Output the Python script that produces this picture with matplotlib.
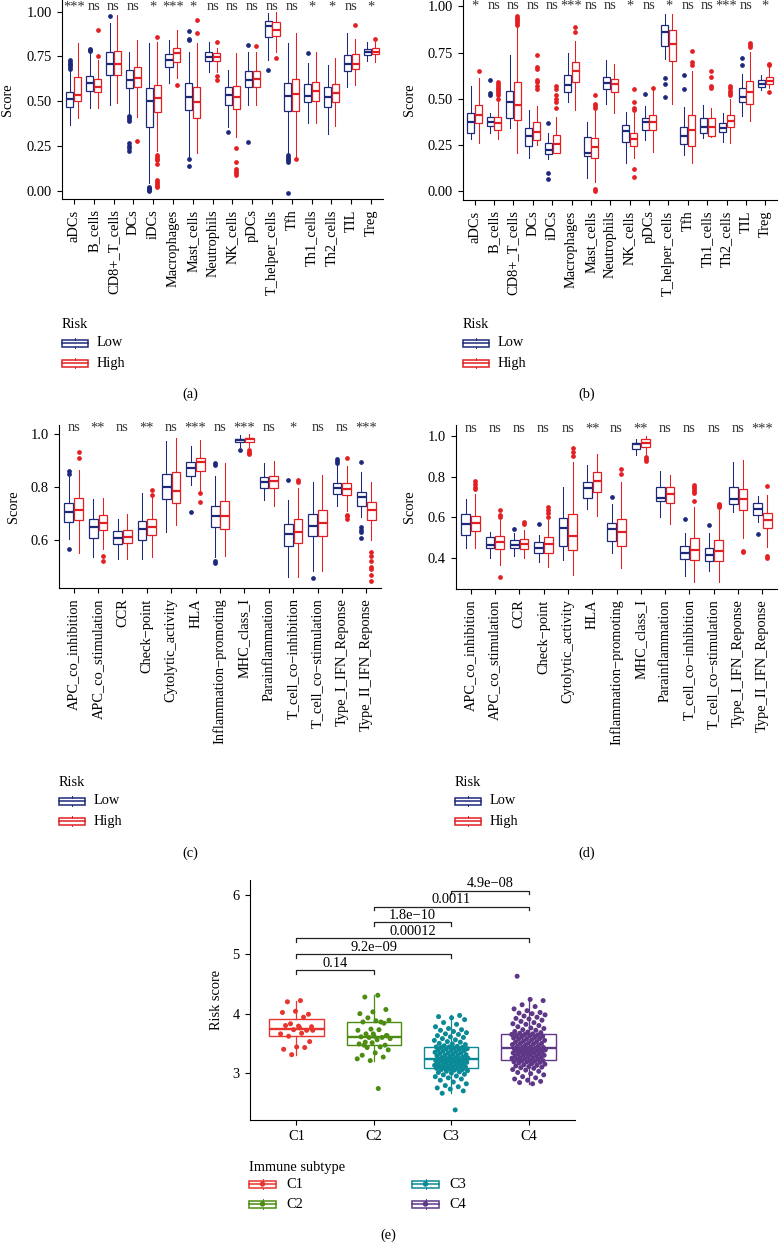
"""Immune cell / immune function scores by risk group (a-d) and risk score
by immune subtype (e), redrawn with matplotlib."""

import matplotlib

matplotlib.use("Agg")

import matplotlib.pyplot as plt
import numpy as np
from matplotlib.patches import Circle, Rectangle

W, H = 783, 1242
FS = 10.4

plt.rcParams["font.family"] = ["Liberation Serif", "DejaVu Serif"]
plt.rcParams["font.size"] = FS

LOW_COLOR = "#1D2A7C"
HIGH_COLOR = "#E41F23"
SUBTYPE_COLORS = ["#E8352E", "#4C8C11", "#0A8A96", "#5E3787"]

CELLS = ["aDCs", "B_cells", "CD8+_T_cells", "DCs", "iDCs", "Macrophages",
         "Mast_cells", "Neutrophils", "NK_cells", "pDCs", "T_helper_cells",
         "Tfh", "Th1_cells", "Th2_cells", "TIL", "Treg"]
FUNCS = ["APC_co_inhibition", "APC_co_stimulation", "CCR", "Check\u2212point",
         "Cytolytic_activity", "HLA", "Inflammation\u2212promoting",
         "MHC_class_I", "Parainflammation", "T_cell_co\u2212inhibition",
         "T_cell_co\u2212stimulation", "Type_I_IFN_Reponse",
         "Type_II_IFN_Reponse"]

# significance marks
A_SIG = ["***", "ns", "ns", "ns", "*", "***", "*", "ns", "ns", "ns", "ns",
         "ns", "*", "*", "ns", "*"]
B_SIG = ["*", "ns", "ns", "ns", "ns", "***", "ns", "ns", "*", "ns", "*",
         "ns", "ns", "***", "ns", "*"]
C_SIG = ["ns", "**", "ns", "**", "ns", "***", "ns", "***", "ns", "*", "ns",
         "ns", "***"]
D_SIG = ["ns", "ns", "ns", "ns", "ns", "**", "ns", "**", "ns", "ns", "ns",
         "ns", "***"]

# box stats per category: (whisker low, q1, median, q3, whisker high)
A_LOW = [(0.368, 0.47, 0.511, 0.55, 0.67), (0.465, 0.558, 0.60, 0.643, 0.77),
         (0.48, 0.647, 0.708, 0.773, 0.935), (0.405, 0.572, 0.619, 0.675, 0.777),
         (0.043, 0.355, 0.502, 0.572, 0.823), (0.60, 0.69, 0.73, 0.762, 0.842),
         (0.19, 0.452, 0.526, 0.60, 0.777), (0.665, 0.725, 0.745, 0.773, 0.829),
         (0.359, 0.48, 0.535, 0.578, 0.675), (0.48, 0.582, 0.619, 0.669, 0.777),
         (0.73, 0.86, 0.92, 0.95, 0.994), (0.21, 0.446, 0.53, 0.60, 0.823),
         (0.377, 0.495, 0.532, 0.595, 0.712), (0.32, 0.467, 0.522, 0.582, 0.703),
         (0.582, 0.671, 0.708, 0.758, 0.879), (0.725, 0.758, 0.773, 0.79, 0.833)]
A_LOW_OUT = [[0.68, 0.69, 0.70, 0.71, 0.72, 0.73], [0.78, 0.785, 0.79], [0.978],
             [0.39, 0.40, 0.41, 0.42, 0.22, 0.24, 0.25, 0.27],
             [0.0, 0.005, 0.01, 0.015, 0.02], [], [0.84, 0.85, 0.89, 0.18, 0.14],
             [], [0.327], [0.815, 0.275], [0.675],
             [0.20, 0.19, 0.18, 0.17, 0.16, -0.01], [0.768], [], [], []]
A_HIGH = [(0.405, 0.50, 0.535, 0.634, 0.827), (0.465, 0.55, 0.582, 0.625, 0.73),
          (0.49, 0.647, 0.708, 0.783, 0.98), (0.415, 0.578, 0.632, 0.69, 0.842),
          (0.22, 0.438, 0.52, 0.59, 0.833), (0.628, 0.72, 0.768, 0.795, 0.898),
          (0.21, 0.409, 0.498, 0.578, 0.823), (0.665, 0.725, 0.745, 0.768, 0.80),
          (0.30, 0.455, 0.526, 0.585, 0.768), (0.48, 0.582, 0.625, 0.671, 0.777),
          (0.777, 0.866, 0.90, 0.944, 1.0), (0.19, 0.448, 0.539, 0.625, 0.879),
          (0.377, 0.502, 0.56, 0.61, 0.777), (0.362, 0.498, 0.545, 0.597, 0.74),
          (0.59, 0.678, 0.708, 0.762, 0.85), (0.72, 0.764, 0.777, 0.795, 0.83)]
A_HIGH_OUT = [[], [0.75, 0.90], [], [0.28],
              [0.86, 0.20, 0.19, 0.18, 0.17, 0.15, 0.06, 0.05, 0.04, 0.03, 0.02],
              [0.59], [0.88, 0.955], [0.83, 0.64, 0.62],
              [0.24, 0.16, 0.12, 0.11, 0.10, 0.09], [0.81], [0.74], [0.177],
              [], [], [0.926], [0.85]]

B_LOW = [(0.28, 0.312, 0.375, 0.423, 0.568), (0.312, 0.351, 0.375, 0.402, 0.42),
         (0.339, 0.393, 0.483, 0.542, 0.739), (0.177, 0.245, 0.297, 0.339, 0.438),
         (0.171, 0.20, 0.222, 0.261, 0.315), (0.483, 0.537, 0.577, 0.627, 0.748),
         (0.072, 0.189, 0.207, 0.294, 0.375), (0.474, 0.55, 0.586, 0.618, 0.708),
         (0.153, 0.263, 0.326, 0.357, 0.429), (0.276, 0.33, 0.375, 0.393, 0.46),
         (0.717, 0.786, 0.861, 0.90, 0.96), (0.195, 0.252, 0.30, 0.348, 0.456),
         (0.285, 0.312, 0.348, 0.393, 0.465), (0.267, 0.321, 0.342, 0.369, 0.423),
         (0.405, 0.483, 0.51, 0.56, 0.636), (0.546, 0.564, 0.578, 0.60, 0.627)]
B_LOW_OUT = [[], [0.60, 0.53, 0.52], [], [], [0.37, 0.10, 0.065], [], [], [],
             [], [0.528], [0.61, 0.58, 0.51], [0.63, 0.555], [], [],
             [0.68, 0.72], []]
B_HIGH = [(0.258, 0.366, 0.414, 0.468, 0.61), (0.28, 0.33, 0.366, 0.402, 0.49),
          (0.204, 0.387, 0.465, 0.591, 0.888), (0.25, 0.276, 0.321, 0.375, 0.46),
          (0.204, 0.204, 0.252, 0.303, 0.40), (0.438, 0.591, 0.65, 0.699, 0.812),
          (0.05, 0.177, 0.24, 0.285, 0.44), (0.423, 0.537, 0.578, 0.605, 0.69),
          (0.18, 0.245, 0.279, 0.315, 0.42), (0.213, 0.333, 0.375, 0.414, 0.55),
          (0.474, 0.705, 0.798, 0.87, 0.96), (0.15, 0.245, 0.333, 0.41, 0.65),
          (0.29, 0.297, 0.348, 0.396, 0.45), (0.258, 0.348, 0.38, 0.414, 0.50),
          (0.38, 0.474, 0.537, 0.595, 0.753), (0.56, 0.582, 0.595, 0.618, 0.672)]
B_HIGH_OUT = [[0.65], [0.50, 0.52, 0.53, 0.54, 0.55, 0.56, 0.57, 0.58, 0.59],
              [0.90, 0.91, 0.92, 0.93, 0.94, 0.95],
              [0.55, 0.57, 0.59, 0.60, 0.66, 0.67, 0.735],
              [0.45, 0.48, 0.50, 0.52, 0.55, 0.57], [0.86, 0.89],
              [0.45, 0.46, 0.47, 0.52, 0.0, 0.01], [],
              [0.44, 0.45, 0.48, 0.555, 0.12, 0.075], [0.56], [],
              [0.68, 0.70, 0.76], [0.56, 0.57, 0.62, 0.65],
              [0.52, 0.53, 0.54, 0.56, 0.57], [0.78, 0.79, 0.80],
              [0.68, 0.69, 0.535]]

C_LOW = [(0.606, 0.669, 0.705, 0.739, 0.84), (0.537, 0.61, 0.65, 0.682, 0.755),
         (0.53, 0.587, 0.61, 0.634, 0.682), (0.53, 0.602, 0.642, 0.673, 0.777),
         (0.632, 0.754, 0.802, 0.852, 0.975), (0.808, 0.844, 0.874, 0.894, 0.956),
         (0.537, 0.65, 0.692, 0.73, 0.842), (0.953, 0.97, 0.979, 0.982, 0.997),
         (0.751, 0.796, 0.821, 0.84, 0.89), (0.461, 0.579, 0.623, 0.663, 0.751),
         (0.486, 0.615, 0.653, 0.70, 0.821), (0.729, 0.773, 0.796, 0.817, 0.884),
         (0.688, 0.73, 0.764, 0.783, 0.859)]
C_LOW_OUT = [[0.85, 0.86, 0.566], [], [], [], [], [0.705],
             [0.89, 0.885, 0.52, 0.515], [0.94], [], [0.827], [0.459],
             [0.89, 0.90, 0.905], [0.896, 0.65, 0.64, 0.63, 0.61]]
C_HIGH = [(0.552, 0.676, 0.716, 0.76, 0.865), (0.566, 0.64, 0.666, 0.695, 0.76),
          (0.53, 0.59, 0.613, 0.638, 0.698), (0.537, 0.621, 0.65, 0.682, 0.764),
          (0.657, 0.739, 0.785, 0.859, 0.987), (0.783, 0.861, 0.894, 0.912, 0.979),
          (0.54, 0.644, 0.692, 0.749, 0.89), (0.953, 0.972, 0.981, 0.987, 1.0),
          (0.729, 0.796, 0.823, 0.844, 0.899), (0.461, 0.591, 0.632, 0.682, 0.798),
          (0.486, 0.616, 0.666, 0.714, 0.846), (0.71, 0.77, 0.792, 0.817, 0.88),
          (0.60, 0.676, 0.716, 0.745, 0.821)]
C_HIGH_OUT = [[0.91, 0.935], [0.54, 0.52], [], [0.77, 0.79], [], [0.778, 0.745],
              [], [0.94, 0.935, 0.93, 0.925], [], [0.82, 0.827], [],
              [0.91, 0.695, 0.69, 0.68],
              [0.555, 0.54, 0.52, 0.50, 0.49, 0.47, 0.445]]

D_LOW = [(0.449, 0.514, 0.566, 0.615, 0.689), (0.40, 0.452, 0.465, 0.503, 0.53),
         (0.411, 0.452, 0.465, 0.49, 0.522), (0.38, 0.424, 0.449, 0.481, 0.514),
         (0.392, 0.462, 0.547, 0.596, 0.747), (0.64, 0.693, 0.746, 0.775, 0.857),
         (0.424, 0.485, 0.542, 0.571, 0.664), (0.905, 0.933, 0.959, 0.962, 0.982),
         (0.604, 0.68, 0.697, 0.75, 0.827), (0.314, 0.395, 0.428, 0.462, 0.522),
         (0.34, 0.387, 0.416, 0.449, 0.522), (0.628, 0.664, 0.69, 0.75, 0.873),
         (0.58, 0.612, 0.64, 0.672, 0.707)]
D_LOW_OUT = [[], [], [0.545], [0.568], [], [], [0.70], [], [], [0.59], [0.565],
             [], [0.517]]
D_HIGH = [(0.449, 0.534, 0.571, 0.607, 0.713), (0.367, 0.446, 0.481, 0.509, 0.587),
          (0.40, 0.446, 0.47, 0.493, 0.538), (0.359, 0.428, 0.468, 0.506, 0.587),
          (0.318, 0.44, 0.509, 0.615, 0.873), (0.607, 0.723, 0.78, 0.821, 0.909),
          (0.351, 0.46, 0.53, 0.592, 0.775), (0.91, 0.946, 0.966, 0.982, 1.0),
          (0.566, 0.672, 0.713, 0.75, 0.808), (0.286, 0.392, 0.44, 0.498, 0.653),
          (0.286, 0.387, 0.437, 0.49, 0.636), (0.498, 0.636, 0.69, 0.737, 0.881),
          (0.457, 0.547, 0.587, 0.623, 0.71)]
D_HIGH_OUT = [[0.74, 0.75, 0.765, 0.78], [0.60, 0.61, 0.635, 0.31], [0.57, 0.58],
              [0.60, 0.62, 0.635, 0.65], [0.90, 0.92, 0.94], [], [0.81, 0.835],
              [0.895, 0.885, 0.875], [], [0.68, 0.72, 0.73, 0.74, 0.75, 0.76],
              [0.65, 0.655, 0.66, 0.665], [0.435, 0.43], [0.755, 0.41, 0.40]]

# panel (e): risk score per sample in each immune subtype
SUBTYPES = ["C1", "C2", "C3", "C4"]
C1_SCORES = [4.22, 4.20, 3.99, 4.04, 4.02, 3.94, 3.83, 3.78, 3.79, 3.80, 3.72,
             3.73, 3.66, 3.67, 3.62, 3.53, 3.44, 3.40, 3.43, 3.31, 3.72, 3.76]
C2_SCORES = [4.31, 4.28, 4.07, 4.03, 4.00, 3.86, 3.93, 3.89, 3.88, 3.86, 3.84,
             3.74, 3.72, 3.73, 3.66, 3.63, 3.62, 3.61, 3.60, 3.60, 3.58, 3.56,
             3.47, 3.47, 3.51, 3.49, 3.44, 3.43, 3.39, 3.34, 3.30, 3.27, 3.21,
             3.24, 2.74, 3.52, 3.63, 3.66]
C3_SCORES = [2.38, 2.66, 2.70, 2.73, 2.75, 2.77, 2.79, 2.82, 2.85, 2.88, 2.90,
             2.92, 2.94, 2.95, 2.97, 2.98, 3.00, 3.01, 3.02, 3.03, 3.04, 3.05,
             3.06, 3.06, 3.07, 3.08, 3.08,
             3.09, 3.10, 3.10, 3.11, 3.12, 3.12, 3.13, 3.14, 3.14, 3.15, 3.16,
             3.16, 3.17, 3.18, 3.18, 3.19, 3.20, 3.20, 3.21, 3.21, 3.22, 3.22,
             3.23, 3.23, 3.24, 3.24, 3.24,
             3.25, 3.26, 3.26, 3.27, 3.28, 3.29, 3.30, 3.30, 3.31, 3.32, 3.33,
             3.34, 3.34, 3.35, 3.36, 3.37, 3.38, 3.38, 3.39, 3.40, 3.41, 3.41,
             3.42, 3.43, 3.43, 3.44, 3.44,
             3.45, 3.46, 3.48, 3.49, 3.50, 3.52, 3.53, 3.55, 3.56, 3.58, 3.60,
             3.61, 3.63, 3.65, 3.66, 3.68, 3.70, 3.72, 3.73, 3.75, 3.78, 3.82,
             3.85, 3.90, 3.93, 3.95, 3.97]
C4_SCORES = [2.82, 2.84, 2.86, 2.88, 2.90, 2.92, 2.94, 2.97, 2.99, 3.01, 3.03,
             3.05, 3.06, 3.08, 3.09, 3.10, 3.11, 3.12, 3.13, 3.14, 3.15, 3.16,
             3.17, 3.18, 3.19, 3.19, 3.20, 3.21, 3.21, 3.22,
             3.23, 3.23, 3.24, 3.25, 3.25, 3.26, 3.27, 3.28, 3.28, 3.29, 3.30,
             3.30, 3.31, 3.32, 3.32, 3.33, 3.34, 3.34, 3.35, 3.36, 3.36, 3.37,
             3.38, 3.38, 3.39, 3.39, 3.40, 3.40, 3.41, 3.41,
             3.42, 3.43, 3.43, 3.44, 3.45, 3.46, 3.47, 3.48, 3.49, 3.50, 3.50,
             3.51, 3.52, 3.53, 3.54, 3.55, 3.56, 3.57, 3.58, 3.58, 3.59, 3.60,
             3.61, 3.62, 3.63, 3.63, 3.64, 3.65, 3.65, 3.66,
             3.67, 3.68, 3.69, 3.70, 3.72, 3.73, 3.75, 3.76, 3.78, 3.80, 3.82,
             3.83, 3.85, 3.87, 3.89, 3.91, 3.92, 3.94, 3.96, 3.98, 4.00, 4.01,
             4.02, 4.05, 4.08, 4.12, 4.15, 4.22, 4.24, 4.63]

# pairwise comparisons: (group i, group j, bracket height, p label)
COMPARISONS = [(1, 2, 4.73, "0.14"), (1, 3, 5.00, "9.2e\u221209"),
               (1, 4, 5.27, "0.00012"), (2, 3, 5.54, "1.8e\u221210"),
               (2, 4, 5.80, "0.0011"), (3, 4, 6.07, "4.9e\u221208")]


def px_axes(fig, x0, y0, x1, y1):
    return fig.add_axes([x0 / W, 1 - y1 / H, (x1 - x0) / W, (y1 - y0) / H])


def style_axes(ax):
    for side in ("top", "right"):
        ax.spines[side].set_visible(False)
    for side in ("left", "bottom"):
        ax.spines[side].set_linewidth(0.8)
    ax.tick_params(length=3.5, width=0.8, pad=4.0, labelsize=FS)


def to_stats(rows, outs):
    return [dict(whislo=r[0], q1=r[1], med=r[2], q3=r[3], whishi=r[4],
                 fliers=o) for r, o in zip(rows, outs)]


def risk_panel(ax, cats, low, low_out, high, high_out, sig, sig_y, ylim,
               yticks, fmt):
    x = np.arange(1, len(cats) + 1)
    for rows, outs, off, color in ((low, low_out, -0.2, LOW_COLOR),
                                   (high, high_out, 0.2, HIGH_COLOR)):
        ax.bxp(to_stats(rows, outs), positions=x + off, widths=0.36,
               showcaps=False, patch_artist=True,
               boxprops=dict(facecolor="white", edgecolor=color, linewidth=0.9),
               medianprops=dict(color=color, linewidth=1.6),
               whiskerprops=dict(color=color, linewidth=0.75),
               flierprops=dict(marker="o", markersize=2.4, markerfacecolor=color,
                               markeredgecolor=color, linestyle="none"))
    for xi, s in zip(x, sig):
        ax.text(xi, sig_y, s, ha="center", va="center", fontsize=FS,
                color="#333333", clip_on=False)
    ax.set_xlim(0.4, len(cats) + 0.6)
    ax.set_ylim(*ylim)
    ax.set_xticks(x)
    ax.set_xticklabels(cats, rotation=90)
    ax.set_yticks(yticks)
    ax.set_yticklabels([fmt.format(t) for t in yticks])
    style_axes(ax)


def legend_key(ov, x, y, color, w=26, h=7, dot=False):
    ov.add_patch(Rectangle((x, y - h / 2), w, h, facecolor="white",
                           edgecolor=color, linewidth=1.1))
    ov.plot([x, x + w], [y, y], color=color, linewidth=1.1)
    ov.plot([x + w / 2] * 2, [y - h / 2 - 1.5, y - h / 2], color=color, lw=0.7)
    ov.plot([x + w / 2] * 2, [y + h / 2, y + h / 2 + 1.5], color=color, lw=0.7)
    if dot:
        ov.add_patch(Circle((x + w / 2, y), 2.0, color=color))


def risk_legend(ov, x, y):
    ov.text(x, y, "Risk", ha="left", va="center")
    legend_key(ov, x, y + 18, LOW_COLOR)
    ov.text(x + 35, y + 18, "Low", ha="left", va="center")
    legend_key(ov, x, y + 38, HIGH_COLOR)
    ov.text(x + 35, y + 38, "High", ha="left", va="center")


def main():
    fig = plt.figure(figsize=(W / 100, H / 100), dpi=100)

    ax_a = px_axes(fig, 62, 0, 383, 199)
    risk_panel(ax_a, CELLS, A_LOW, A_LOW_OUT, A_HIGH, A_HIGH_OUT, A_SIG, 1.027,
               (-0.045, 1.065), [0, 0.25, 0.5, 0.75, 1.0], "{:.2f}")
    ax_b = px_axes(fig, 463, 0, 777, 200)
    risk_panel(ax_b, CELLS, B_LOW, B_LOW_OUT, B_HIGH, B_HIGH_OUT, B_SIG, 1.003,
               (-0.049, 1.035), [0, 0.25, 0.5, 0.75, 1.0], "{:.2f}")
    ax_c = px_axes(fig, 59, 425, 381, 588)
    risk_panel(ax_c, FUNCS, C_LOW, C_LOW_OUT, C_HIGH, C_HIGH_OUT, C_SIG, 1.024,
               (0.42, 1.035), [0.6, 0.8, 1.0], "{:.1f}")
    ax_d = px_axes(fig, 456, 425, 777, 589)
    risk_panel(ax_d, FUNCS, D_LOW, D_LOW_OUT, D_HIGH, D_HIGH_OUT, D_SIG, 1.033,
               (0.25, 1.052), [0.4, 0.6, 0.8, 1.0], "{:.1f}")

    for ax, x0, x1, xl in ((ax_a, 62, 383, 8), (ax_b, 463, 777, 410),
                           (ax_c, 59, 381, 13), (ax_d, 456, 777, 410)):
        ax.set_ylabel("Score", va="center")
        ax.yaxis.set_label_coords((xl - x0) / (x1 - x0), 0.5)

    # panel (e)
    ax_e = px_axes(fig, 250, 880, 575, 1120)
    groups = [C1_SCORES, C2_SCORES, C3_SCORES, C4_SCORES]
    pos = np.arange(1, 5)
    for p, vals, color in zip(pos, groups, SUBTYPE_COLORS):
        ax_e.boxplot([vals], positions=[p], widths=0.7, showcaps=False,
                     showfliers=False, patch_artist=True,
                     boxprops=dict(facecolor="white", edgecolor=color,
                                   linewidth=1.0),
                     medianprops=dict(color=color, linewidth=1.7),
                     whiskerprops=dict(color=color, linewidth=0.9))
        n = len(vals)
        jitter = 0.44 * ((np.arange(1, n + 1) * 0.6180339887) % 1.0) - 0.22
        ax_e.scatter(p + jitter, vals, s=13, color=color, edgecolors="none",
                     zorder=3)
    for i, j, yb, lab in COMPARISONS:
        ax_e.plot([i, i, j, j], [yb - 0.06, yb, yb, yb - 0.06],
                  color="#222222", linewidth=0.9)
        ax_e.text((i + j) / 2, yb + 0.01, lab, ha="center", va="bottom",
                  fontsize=FS)
    ax_e.set_xlim(0.4, 4.6)
    ax_e.set_ylim(2.21, 6.25)
    ax_e.set_xticks(pos)
    ax_e.set_xticklabels(SUBTYPES)
    ax_e.set_yticks([3, 4, 5, 6])
    style_axes(ax_e)
    ax_e.set_ylabel("Risk score", va="center")
    ax_e.yaxis.set_label_coords((217 - 250) / 325, 0.5)

    # overlay in pixel coordinates for legends and panel letters
    ov = fig.add_axes([0, 0, 1, 1], zorder=5)
    ov.set_xlim(0, W)
    ov.set_ylim(H, 0)
    ov.axis("off")
    ov.patch.set_alpha(0)

    risk_legend(ov, 62, 325)
    risk_legend(ov, 463, 325)
    risk_legend(ov, 59, 783)
    risk_legend(ov, 455, 783)
    for lab, x, y in (("(a)", 190, 394), ("(b)", 587, 394), ("(c)", 190, 853),
                      ("(d)", 587, 853), ("(e)", 388, 1235)):
        ov.text(x, y, lab, ha="center", va="center")

    ov.text(249, 1167, "Immune subtype", ha="left", va="center")
    for k, (name, color) in enumerate(zip(SUBTYPES, SUBTYPE_COLORS)):
        col, row = divmod(k, 2)
        kx = 249 + col * 163
        ky = 1184 + row * 20
        legend_key(ov, kx, ky, color, w=27, dot=True)
        ov.text(kx + 37, ky, name, ha="left", va="center")

    fig.savefig("out.png", dpi=100)
    plt.close(fig)


if __name__ == "__main__":
    main()
